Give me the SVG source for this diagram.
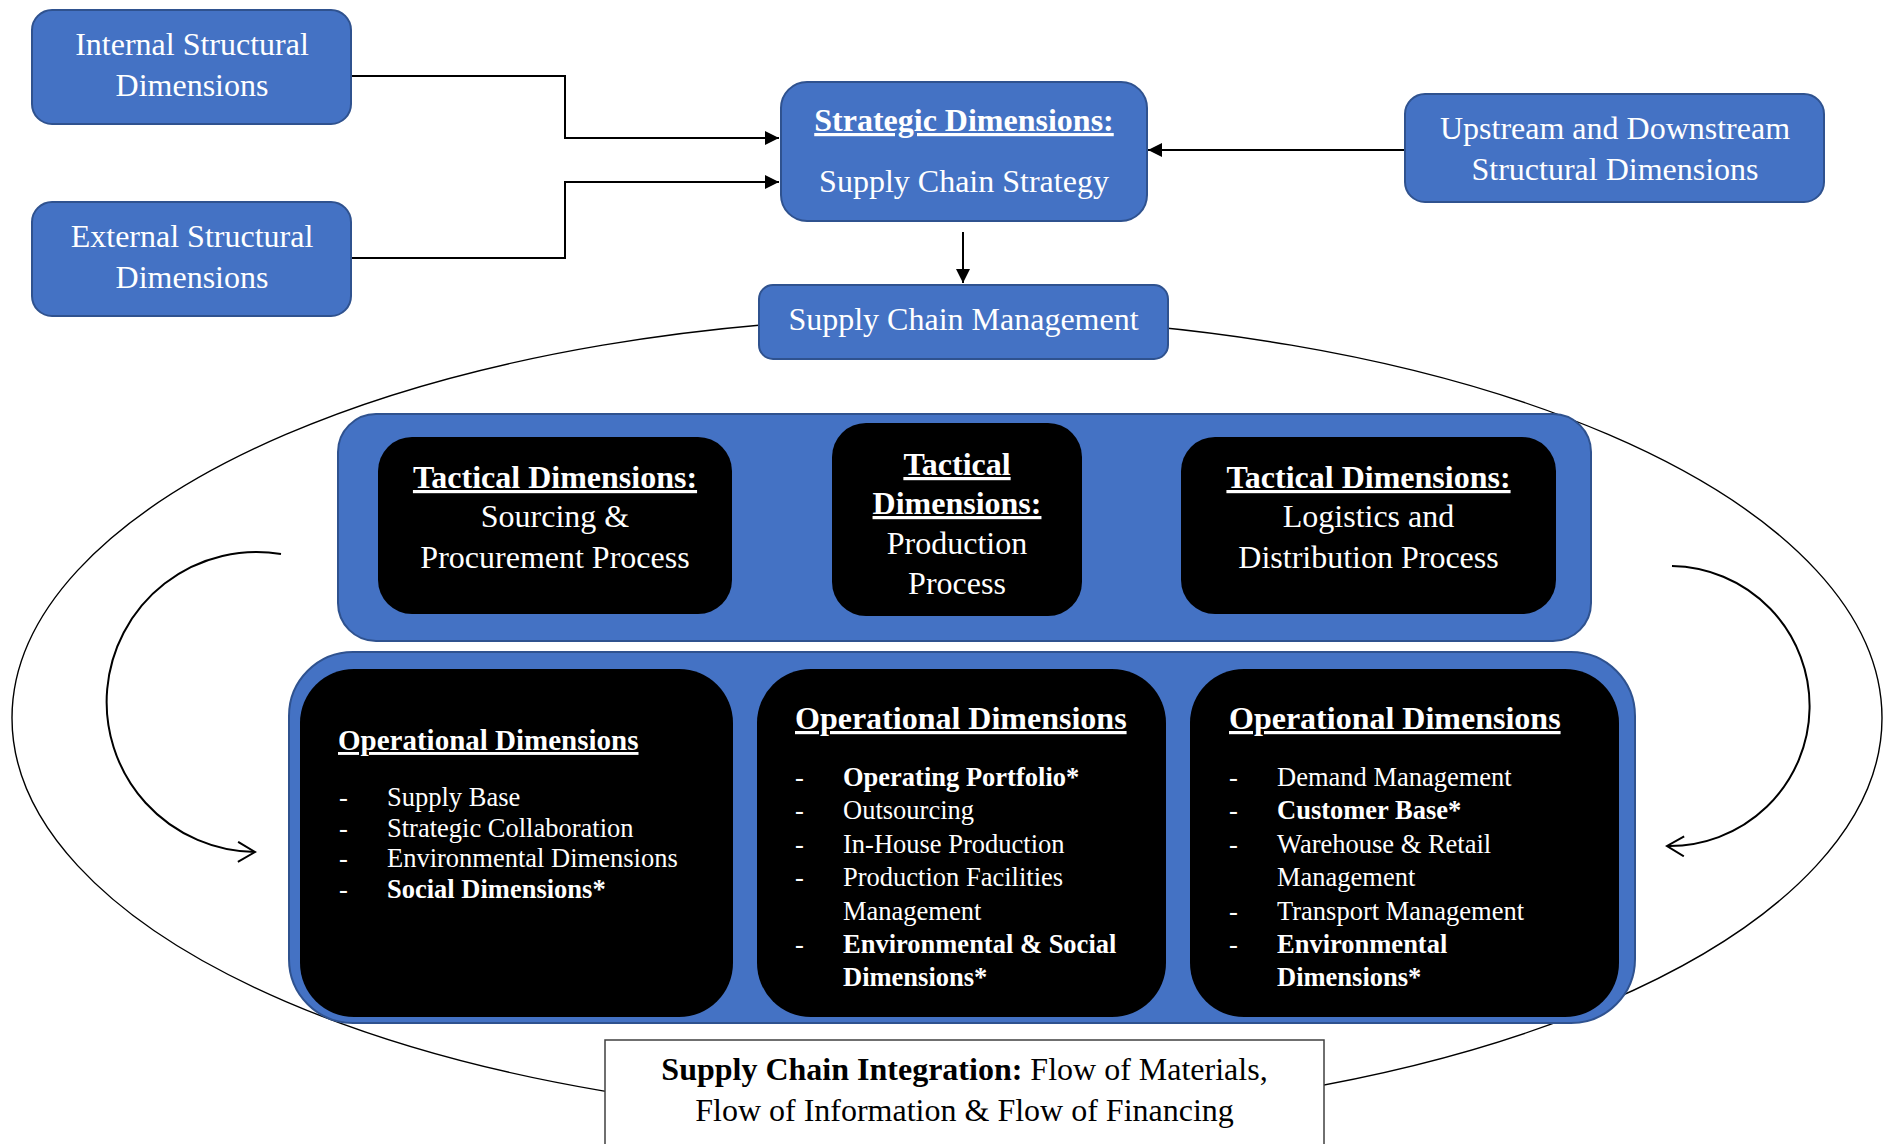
<svg xmlns="http://www.w3.org/2000/svg" width="1885" height="1144" viewBox="0 0 1885 1144">
  <style>
    .t { font-family: "Liberation Serif", "Times New Roman", serif; fill: #ffffff; }
    .c { text-anchor: middle; }
    .s32 { font-size: 32px; }
    .s29 { font-size: 29px; }
    .s26 { font-size: 26.5px; }
    .b { font-weight: bold; }
    .u { text-decoration: underline; }
    .blue { fill: #4472C4; stroke: #2F528F; stroke-width: 2; }
    .dark { fill: #000000; }
    .link { fill: none; stroke: #000000; stroke-width: 2; }
    .thin { fill: none; stroke: #000000; stroke-width: 1.4; }
  </style>
  <defs>
    <marker id="solid" viewBox="0 0 10 10" refX="10" refY="5" markerWidth="14" markerHeight="14" markerUnits="userSpaceOnUse" orient="auto-start-reverse">
      <path d="M0,0 L10,5 L0,10 z" fill="#000000"/>
    </marker>
    <marker id="open" viewBox="0 0 20 22" refX="18" refY="11" markerWidth="20" markerHeight="22" markerUnits="userSpaceOnUse" orient="auto">
      <path d="M1,1 L18,11 L1,21" fill="none" stroke="#000000" stroke-width="2"/>
    </marker>
  </defs>

  <!-- outer integration loop, drawn behind the boxes -->
  <g id="loop">
    <ellipse cx="947" cy="718" rx="935" ry="401" class="thin"/>
  </g>

  <g id="connectors">
    <path class="link" d="M351,76 H565 V138 H779" marker-end="url(#solid)"/>
    <path class="link" d="M351,258 H565 V182 H779" marker-end="url(#solid)"/>
    <path class="link" d="M1405,150 H1148" marker-end="url(#solid)"/>
    <path class="link" d="M963,232 V283" marker-end="url(#solid)"/>
    <path class="link" d="M748,519 H814" marker-start="url(#solid)" marker-end="url(#solid)"/>
    <path class="link" d="M1095,516 H1161" marker-start="url(#solid)" marker-end="url(#solid)"/>
    <path class="link" d="M281,554 A150,150 0 1 0 255,852" marker-end="url(#open)"/>
    <path class="link" d="M1672,566 A139,139 0 1 1 1667,846" marker-end="url(#open)"/>
  </g>

  <g id="internal-structural">
    <rect x="32" y="10" width="319" height="114" rx="20" class="blue"/>
    <text class="t c s32" x="192" y="55">Internal Structural</text>
    <text class="t c s32" x="192" y="96">Dimensions</text>
  </g>

  <g id="external-structural">
    <rect x="32" y="202" width="319" height="114" rx="20" class="blue"/>
    <text class="t c s32" x="192" y="247">External Structural</text>
    <text class="t c s32" x="192" y="288">Dimensions</text>
  </g>

  <g id="strategic">
    <rect x="781" y="82" width="366" height="139" rx="26" class="blue"/>
    <text class="t c s32 b u" x="964" y="131">Strategic Dimensions:</text>
    <text class="t c s32" x="964" y="192">Supply Chain Strategy</text>
  </g>

  <g id="upstream-downstream">
    <rect x="1405" y="94" width="419" height="108" rx="20" class="blue"/>
    <text class="t c s32" x="1615" y="139">Upstream and Downstream</text>
    <text class="t c s32" x="1615" y="180">Structural Dimensions</text>
  </g>

  <g id="supply-chain-management">
    <rect x="759" y="285" width="409" height="74" rx="14" class="blue"/>
    <text class="t c s32" x="963.5" y="330">Supply Chain Management</text>
  </g>

  <g id="tactical-level">
    <rect x="338" y="414" width="1253" height="227" rx="38" class="blue"/>
  </g>

  <g id="tactical-sourcing">
    <rect x="378" y="437" width="354" height="177" rx="34" class="dark"/>
    <text class="t c s32 b u" x="555" y="488">Tactical Dimensions:</text>
    <text class="t c s32" x="555" y="527">Sourcing &amp;</text>
    <text class="t c s32" x="555" y="568">Procurement Process</text>
  </g>

  <g id="tactical-production">
    <rect x="832" y="423" width="250" height="193" rx="34" class="dark"/>
    <text class="t c s32 b u" x="957" y="475">Tactical</text>
    <text class="t c s32 b u" x="957" y="514">Dimensions:</text>
    <text class="t c s32" x="957" y="554">Production</text>
    <text class="t c s32" x="957" y="594">Process</text>
  </g>

  <g id="tactical-logistics">
    <rect x="1181" y="437" width="375" height="177" rx="34" class="dark"/>
    <text class="t c s32 b u" x="1368.5" y="488">Tactical Dimensions:</text>
    <text class="t c s32" x="1368.5" y="527">Logistics and</text>
    <text class="t c s32" x="1368.5" y="568">Distribution Process</text>
  </g>

  <g id="operational-level">
    <rect x="289" y="652" width="1346" height="371" rx="64" class="blue"/>
  </g>

  <g id="operational-sourcing">
    <rect x="300" y="669" width="433" height="348" rx="54" class="dark"/>
    <text class="t s29 b u" x="338" y="750">Operational Dimensions</text>
    <g class="t s26">
      <text x="339" y="806">-</text><text x="387" y="806">Supply Base</text>
      <text x="339" y="836.5">-</text><text x="387" y="836.5">Strategic Collaboration</text>
      <text x="339" y="867">-</text><text x="387" y="867">Environmental Dimensions</text>
      <text x="339" y="897.5">-</text><text x="387" y="897.5" class="b">Social Dimensions*</text>
    </g>
  </g>

  <g id="operational-production">
    <rect x="757" y="669" width="409" height="348" rx="54" class="dark"/>
    <text class="t s32 b u" x="795" y="729">Operational Dimensions</text>
    <g class="t s26">
      <text x="795" y="786">-</text><text x="843" y="786" class="b">Operating Portfolio*</text>
      <text x="795" y="819.4">-</text><text x="843" y="819.4">Outsourcing</text>
      <text x="795" y="852.8">-</text><text x="843" y="852.8">In-House Production</text>
      <text x="795" y="886.2">-</text><text x="843" y="886.2">Production Facilities</text>
      <text x="843" y="919.6">Management</text>
      <text x="795" y="953">-</text><text x="843" y="953" class="b">Environmental &amp; Social</text>
      <text x="843" y="986.4" class="b">Dimensions*</text>
    </g>
  </g>

  <g id="operational-logistics">
    <rect x="1190" y="669" width="429" height="348" rx="54" class="dark"/>
    <text class="t s32 b u" x="1229" y="729">Operational Dimensions</text>
    <g class="t s26">
      <text x="1229" y="786">-</text><text x="1277" y="786">Demand Management</text>
      <text x="1229" y="819.4">-</text><text x="1277" y="819.4" class="b">Customer Base*</text>
      <text x="1229" y="852.8">-</text><text x="1277" y="852.8">Warehouse &amp; Retail</text>
      <text x="1277" y="886.2">Management</text>
      <text x="1229" y="919.6">-</text><text x="1277" y="919.6">Transport Management</text>
      <text x="1229" y="953">-</text><text x="1277" y="953" class="b">Environmental</text>
      <text x="1277" y="986.4" class="b">Dimensions*</text>
    </g>
  </g>

  <g id="supply-chain-integration">
    <rect x="605" y="1040" width="719" height="110" fill="#ffffff" stroke="#404040" stroke-width="1.5"/>
    <text class="c s32" x="964.5" y="1080" font-family="'Liberation Serif', 'Times New Roman', serif" fill="#000000"><tspan font-weight="bold">Supply Chain Integration:</tspan> Flow of Materials,</text>
    <text class="c s32" x="964.5" y="1121" font-family="'Liberation Serif', 'Times New Roman', serif" fill="#000000">Flow of Information &amp; Flow of Financing</text>
  </g>
</svg>
